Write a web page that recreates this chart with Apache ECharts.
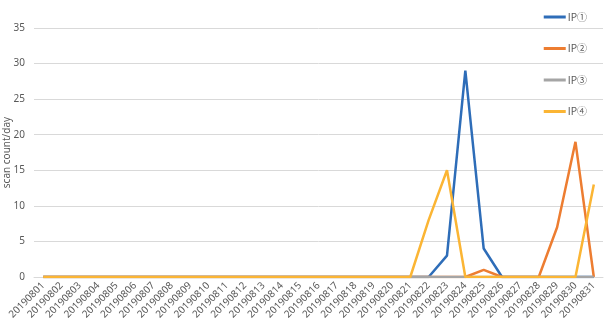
<!DOCTYPE html>
<html><head><meta charset="utf-8">
<script src="https://cdn.jsdelivr.net/npm/echarts@6/dist/echarts.min.js"></script>
<style>html,body{margin:0;padding:0;background:#fff}#c{width:610px;height:324px}</style>
</head><body><div id="c"></div>
<script>
const categories = ["20190801","20190802","20190803","20190804","20190805","20190806","20190807","20190808","20190809","20190810","20190811","20190812","20190813","20190814","20190815","20190816","20190817","20190818","20190819","20190820","20190821","20190822","20190823","20190824","20190825","20190826","20190827","20190828","20190829","20190830","20190831"];
const ip1 = [0,0,0,0,0,0,0,0,0,0,0,0,0,0,0,0,0,0,0,0,0,0,3,29,4,0,0,0,0,0,0];
const ip2 = [0,0,0,0,0,0,0,0,0,0,0,0,0,0,0,0,0,0,0,0,0,0,0,0,1,0,0,0,7,19,0];
const ip3 = [0,0,0,0,0,0,0,0,0,0,0,0,0,0,0,0,0,0,0,0,0,0,0,0,0,0,0,0,0,0,0];
const ip4 = [0,0,0,0,0,0,0,0,0,0,0,0,0,0,0,0,0,0,0,0,0,8,15,0,0,0,0,0,0,0,13];
const seriesNames = ["IP①","IP②","IP③","IP④"];
const colors = ["#2E6DB8","#ED7D31","#A5A5A5","#FBB534"];
const yTicks = {min:0, max:35, interval:5};

const font = "'Noto Sans', 'Noto Sans CJK SC', sans-serif";
const chart = echarts.init(document.getElementById('c'), null, {renderer:'canvas'});
const data = [ip1, ip2, ip3, ip4];
chart.setOption({
  animation:false,
  color: colors,
  textStyle:{fontFamily:font},
  grid:{left:34, right:7, top:28, bottom:47, containLabel:false, outerBoundsMode:'none'},
  legend:{
    orient:'vertical', right:18, top:7, itemGap:21.5, itemWidth:22, itemHeight:3, icon:'rect',
    textStyle:{fontSize:10, color:'#595959', fontFamily:"'Noto Sans CJK SC', sans-serif", padding:[0,0,0,-3]},
    data: seriesNames
  },
  xAxis:{
    type:'category', data:categories, boundaryGap:true,
    axisLine:{show:true, lineStyle:{color:'#d9d9d9'}},
    axisTick:{show:false},
    axisLabel:{rotate:45, fontSize:10, color:'#595959', interval:0, margin:7}
  },
  yAxis:{
    type:'value', min:yTicks.min, max:yTicks.max, interval:yTicks.interval,
    name:'scan count/day', nameLocation:'middle', nameGap:22, nameRotate:90, nameMoveOverlap:false,
    nameTextStyle:{fontSize:10, color:'#595959'},
    axisLine:{show:false}, axisTick:{show:false},
    splitLine:{lineStyle:{color:'#d9d9d9'}},
    axisLabel:{fontSize:10, color:'#595959', margin:9}
  },
  series: seriesNames.map((n,i)=>({
    name:n, type:'line', data:data[i], symbol:'none',
    lineStyle:{width:2.5, color:colors[i]}, itemStyle:{color:colors[i]}
  }))
});
</script></body></html>
